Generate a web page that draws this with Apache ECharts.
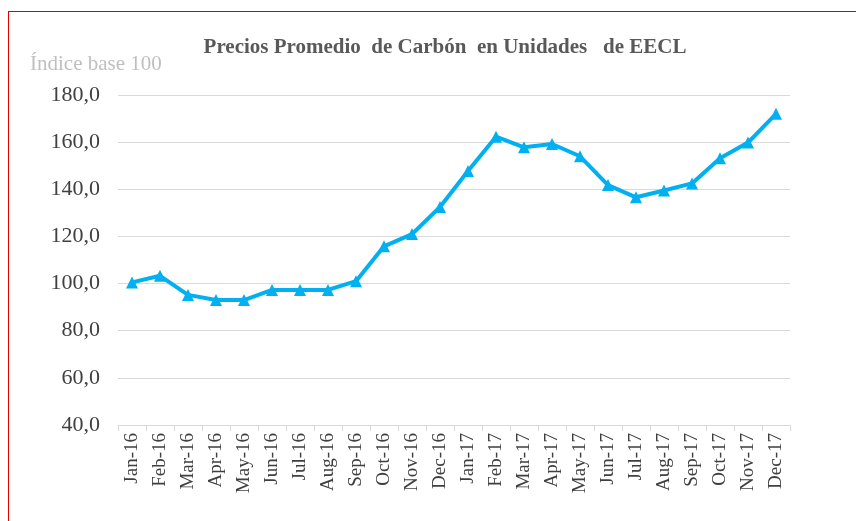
<!DOCTYPE html>
<html>
<head>
<meta charset="utf-8">
<script src="https://cdn.jsdelivr.net/npm/echarts@6/dist/echarts.min.js"></script>
<style>
  html, body { margin: 0; padding: 0; background: #fff; }
  #chart { width: 856px; height: 521px; }
</style>
</head>
<body>
<div id="chart"></div>
<script>
  const months = ['Jan-16', 'Feb-16', 'Mar-16', 'Apr-16', 'May-16', 'Jun-16', 'Jul-16', 'Aug-16',
    'Sep-16', 'Oct-16', 'Nov-16', 'Dec-16', 'Jan-17', 'Feb-17', 'Mar-17', 'Apr-17', 'May-17',
    'Jun-17', 'Jul-17', 'Aug-17', 'Sep-17', 'Oct-17', 'Nov-17', 'Dec-17'];
  const priceIndex = [100.5, 103.3, 95.2, 93.0, 93.0, 97.3, 97.3, 97.3, 101.0, 115.8, 121.0, 132.5,
    147.8, 162.3, 157.8, 159.2, 154.0, 141.8, 136.6, 139.5, 142.5, 153.2, 159.8, 172.0];

  const chart = echarts.init(document.getElementById('chart'));
  const serif = '"Liberation Serif", "DejaVu Serif", serif';

  const option = {
    animation: false,
    title: {
      text: 'Precios Promedio  de Carbón  en Unidades   de EECL',
      left: 440,
      textAlign: 'center',
      top: 32,
      textStyle: { fontFamily: serif, fontSize: 21, fontWeight: 'bold', color: '#595959' }
    },
    graphic: [
      { type: 'line', shape: { x1: 8, y1: 11.5, x2: 856, y2: 11.5 }, style: { stroke: '#e00000', lineWidth: 1 } },
      { type: 'line', shape: { x1: 8.5, y1: 11, x2: 8.5, y2: 521 }, style: { stroke: '#e00000', lineWidth: 1 } },
      {
        type: 'text', left: 30, top: 54,
        style: { text: 'Índice base 100', font: '21px ' + serif, fill: '#bfbfbf' }
      }
    ],
    grid: { left: 118, right: 66, top: 95, bottom: 96 },
    xAxis: {
      type: 'category',
      data: months,
      axisLine: { lineStyle: { color: '#d9d9d9', width: 1 } },
      axisTick: { show: true, lineStyle: { color: '#d9d9d9' }, length: 6 },
      axisLabel: { rotate: 90, interval: 0, fontFamily: serif, fontSize: 19, color: '#404040', margin: 8 }
    },
    yAxis: {
      type: 'value',
      min: 40,
      max: 180,
      interval: 20,
      axisLine: { show: false },
      axisTick: { show: false },
      splitLine: { lineStyle: { color: '#d9d9d9', width: 1 } },
      axisLabel: {
        fontFamily: serif, fontSize: 22, color: '#404040', margin: 18,
        formatter: v => v.toFixed(1).replace('.', ',')
      }
    },
    series: [{
      type: 'line',
      data: priceIndex,
      lineStyle: { color: '#00B0F0', width: 4 },
      itemStyle: { color: '#00B0F0' },
      symbol: 'triangle',
      symbolSize: 12
    }]
  };

  chart.setOption(option);
</script>
</body>
</html>
